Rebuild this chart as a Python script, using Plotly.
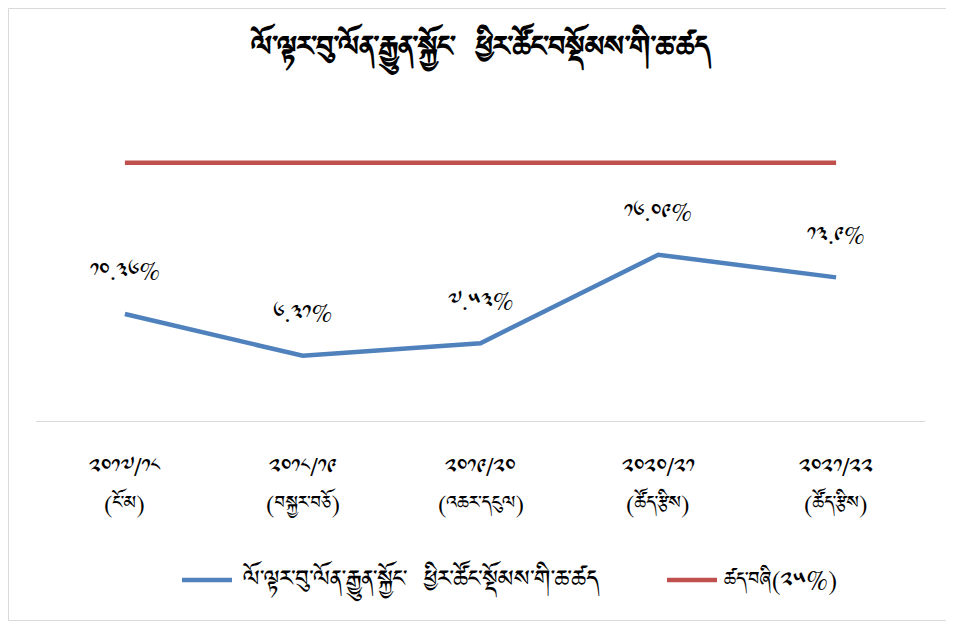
import plotly.graph_objects as go

years = ["༢༠༡༧/༡༨", "༢༠༡༨/༡༩", "༢༠༡༩/༢༠", "༢༠༢༠/༢༡", "༢༠༢༡/༢༢"]
status = ["(ངོ་མ)", "(བསྐྱར་བཅོ)", "(འཆར་དངུལ)", "(ཚོད་རྩིས)", "(ཚོད་རྩིས)"]
ratio = [10.36, 6.31, 7.53, 16.09, 13.9]
threshold = [25, 25, 25, 25, 25]

title_text = "ལོ་ལྟར་བུ་ལོན་རྒྱུན་སྐྱོང་  ཕྱིར་ཚོང་བསྡོམས་གི་ཆ་ཚད"
series1_name = "ལོ་ལྟར་བུ་ལོན་རྒྱུན་སྐྱོང་  ཕྱིར་ཚོང་སྡོམས་གི་ཆ་ཚད"
series2_name = "ཚད་བཞི(༢༥%)"

TIB = str.maketrans("0123456789", "༠༡༢༣༤༥༦༧༨༩")
labels = [f"{v:g}".translate(TIB) + "%" for v in ratio]
xs = list(range(len(years)))

FONT = "Noto Sans Tibetan, Jomolhari, Microsoft Himalaya, DejaVu Sans, sans-serif"
BLUE, RED = "#4F81BD", "#C0504D"

# page body has an 8px margin, so the figure is drawn 8px in from the corner
W, H = 946, 613
ml, mr, mt, mb = 28, 29, 103, 200
pw, ph = W - ml - mr, H - mt - mb


def px(x):
    return (x - ml) / pw


def py(y):
    return (H - mb - y) / ph


fig = go.Figure()
fig.add_trace(go.Scatter(x=xs, y=ratio, mode="lines", name=series1_name,
                         line=dict(color=BLUE, width=4.5)))
fig.add_trace(go.Scatter(x=xs, y=threshold, mode="lines", name=series2_name,
                         line=dict(color=RED, width=4.5)))

# data labels
for x, y, t in zip(xs, ratio, labels):
    fig.add_annotation(x=x, y=y, text=t, showarrow=False, yshift=43,
                       font=dict(size=23, color="#000000", family=FONT))

# two-line category labels
for x, yr, st in zip(xs, years, status):
    fig.add_annotation(x=x, xref="x", y=py(458), yref="paper", text=yr,
                       showarrow=False, yanchor="middle",
                       font=dict(size=23, color="#000000", family=FONT))
    fig.add_annotation(x=x, xref="x", y=py(495), yref="paper", text=st,
                       showarrow=False, yanchor="middle",
                       font=dict(size=23, color="#000000", family=FONT))

# legend (drawn manually)
leg_y = py(572)
for (x0, x1, tx, name, col, fs) in [(174, 224, 232, series1_name, BLUE, 29),
                                    (659, 709, 714, series2_name, RED, 24)]:
    fig.add_shape(type="line", xref="paper", yref="paper",
                  x0=px(x0), x1=px(x1), y0=leg_y, y1=leg_y,
                  line=dict(color=col, width=4.5))
    fig.add_annotation(x=px(tx), y=leg_y, xref="paper", yref="paper", text=name,
                       showarrow=False, xanchor="left", yanchor="middle",
                       font=dict(size=fs, color="#000000", family=FONT))

# chart border
fig.add_shape(type="rect", xref="paper", yref="paper",
              x0=px(0.5), x1=px(W - 0.5), y0=py(H - 0.5), y1=py(0.5),
              line=dict(color="#D9D9D9", width=1), layer="below")

fig.update_layout(
    width=W, height=H,
    margin=dict(l=ml, r=mr, t=mt, b=mb),
    paper_bgcolor="white", plot_bgcolor="white",
    title=dict(text="<b>" + title_text + "</b>", x=0.5, xanchor="center",
               y=1 - 42 / H, yanchor="middle",
               font=dict(size=36, color="#000000", family=FONT)),
    xaxis=dict(tickmode="array", tickvals=xs, showticklabels=False,
               range=[-0.5, len(xs) - 0.5], showgrid=False, zeroline=False,
               showline=True, linecolor="#D9D9D9", linewidth=1, ticks=""),
    yaxis=dict(range=[0, 30], showgrid=False, zeroline=False,
               showticklabels=False, showline=False),
    showlegend=False,
)

fig.write_html("out.html")
